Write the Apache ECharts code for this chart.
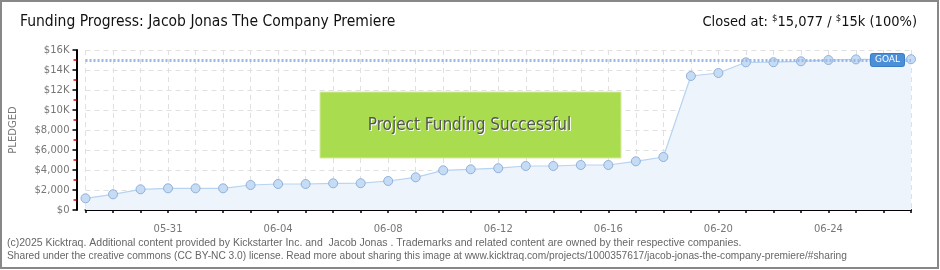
<!DOCTYPE html>
<html><head><meta charset="utf-8">
<script src="https://cdn.jsdelivr.net/npm/echarts@6/dist/echarts.min.js"></script>
<style>html,body{margin:0;padding:0;background:#fff}#c{width:940px;height:270px}</style>
</head><body><div id="c"></div>
<script>
var dates = ['05-28','05-29','05-30','05-31','06-01','06-02','06-03','06-04','06-05','06-06','06-07','06-08','06-09','06-10','06-11','06-12','06-13','06-14','06-15','06-16','06-17','06-18','06-19','06-20','06-21','06-22','06-23','06-24','06-25','06-26','06-27'];
var pledged = [1170,1570,2070,2170,2170,2170,2500,2600,2600,2670,2680,2900,3270,3970,4070,4180,4400,4400,4500,4500,4870,5300,13400,13700,14770,14780,14870,15000,15060,15070,15077];
var goal = 15000;
var yTicks = {0:'$0',2000:'$2,000',4000:'$4,000',6000:'$6,000',8000:'$8,000',10000:'$10K',12000:'$12K',14000:'$14K',16000:'$16K'};
var titleText = 'Funding Progress: Jacob Jonas The Company Premiere';
var footer1 = '(c)2025 Kicktraq. Additional content provided by Kickstarter Inc. and  Jacob Jonas . Trademarks and related content are owned by their respective companies.';
var footer2 = 'Shared under the creative commons (CC BY-NC 3.0) license. Read more about sharing this image at www.kicktraq.com/projects/1000357617/jacob-jonas-the-company-premiere/#sharing';

var chart = echarts.init(document.getElementById('c'));
var titleFont = '"Liberation Sans Narrow","DejaVu Sans Condensed",sans-serif';
chart.setOption({
  animation: false,
  grid: {left: 85.5, right: 29, top: 50, bottom: 60},
  xAxis: {
    type: 'category', data: dates, boundaryGap: false, offset: 10,
    axisLine: {lineStyle: {color: '#000', width: 2}},
    axisTick: {interval: 0, length: 3, lineStyle: {color: '#000', width: 1.5}},
    axisLabel: {interval: function(i){return (i-3)%4===0;}, color: '#777', fontSize: 10, fontFamily: 'DejaVu Sans', margin: 4},
    splitLine: {show: true, interval: 0, lineStyle: {color: '#e0e0e0', type: [5,4], width: 1}}
  },
  yAxis: {
    type: 'value', min: 0, max: 16000, interval: 2000, offset: 9,
    name: 'PLEDGED', nameLocation: 'middle', nameGap: 58, nameRotate: 90,
    nameTextStyle: {color: '#777', fontSize: 10, fontFamily: 'DejaVu Sans'},
    axisLine: {show: true, lineStyle: {color: '#000', width: 2}},
    axisTick: {show: true, length: 4, lineStyle: {color: '#000', width: 1.5}},
    minorTick: {show: true, splitNumber: 2, length: 3, lineStyle: {color: '#e00', width: 1.5}},
    axisLabel: {color: '#777', fontSize: 10, fontFamily: 'DejaVu Sans', margin: 7,
      formatter: function(v){return yTicks[v] !== undefined ? yTicks[v] : '';}},
    splitLine: {show: true, lineStyle: {color: '#e0e0e0', type: [5,4], width: 1}}
  },
  series: [{
    type: 'line', data: pledged, symbol: 'circle', symbolSize: 9,
    itemStyle: {color: '#c6dcf5', borderColor: '#8fb1db', borderWidth: 1},
    lineStyle: {color: '#b7d3f1', width: 1.2},
    areaStyle: {color: '#edf4fc', opacity: 1},
    z: 3,
    markLine: {
      silent: true, symbol: 'none',
      data: [{yAxis: goal}],
      lineStyle: {color: '#9ab8e2', type: [2,2], width: 3},
      label: {show: true, position: 'insideEnd', distance: 7, formatter: 'GOAL',
        color: '#fff', fontSize: 9, fontFamily: 'DejaVu Sans', backgroundColor: '#4a8fd8',
        padding: [2, 4, 1, 4], borderRadius: 2, borderColor: '#3a7cc8', borderWidth: 1}
    }
  }],
  graphic: [
    {type: 'rect', shape: {x: 1, y: 1, width: 937, height: 267}, style: {fill: 'none', stroke: '#888', lineWidth: 2}, z: 100},
    {type: 'text', left: 20, top: 14, style: {text: titleText, fill: '#111', font: '15.5px ' + titleFont}},
    {type: 'text', right: 23, top: 14, style: {
      rich: {
        t: {fill: '#111', font: '14.5px ' + titleFont},
        s: {fill: '#111', font: '9.5px ' + titleFont, verticalAlign: 'top', padding: [0,0,6,0]}
      },
      text: '{t|Closed at: }{s|$}{t|15,077 / }{s|$}{t|15k (100%)}'}},
    {type: 'rect', shape: {x: 320, y: 92, width: 301, height: 66}, style: {fill: '#a9dd4f', stroke: '#d8eaa0', lineWidth: 1}, z: 50},
    {type: 'text', x: 470.5, y: 126.5, style: {text: 'Project Funding Successful', fill: '#fff', font: '17px ' + titleFont, align: 'center', verticalAlign: 'middle'}, z: 51},
    {type: 'text', x: 469.5, y: 125.5, style: {text: 'Project Funding Successful', fill: '#555', font: '17px ' + titleFont, align: 'center', verticalAlign: 'middle'}, z: 52},
    {type: 'text', left: 7, top: 238, style: {text: footer1, fill: '#666', font: '10.5px "Liberation Sans",sans-serif'}},
    {type: 'text', left: 7, top: 251, style: {text: footer2, fill: '#666', font: '10.2px "Liberation Sans",sans-serif'}}
  ]
});
</script></body></html>
